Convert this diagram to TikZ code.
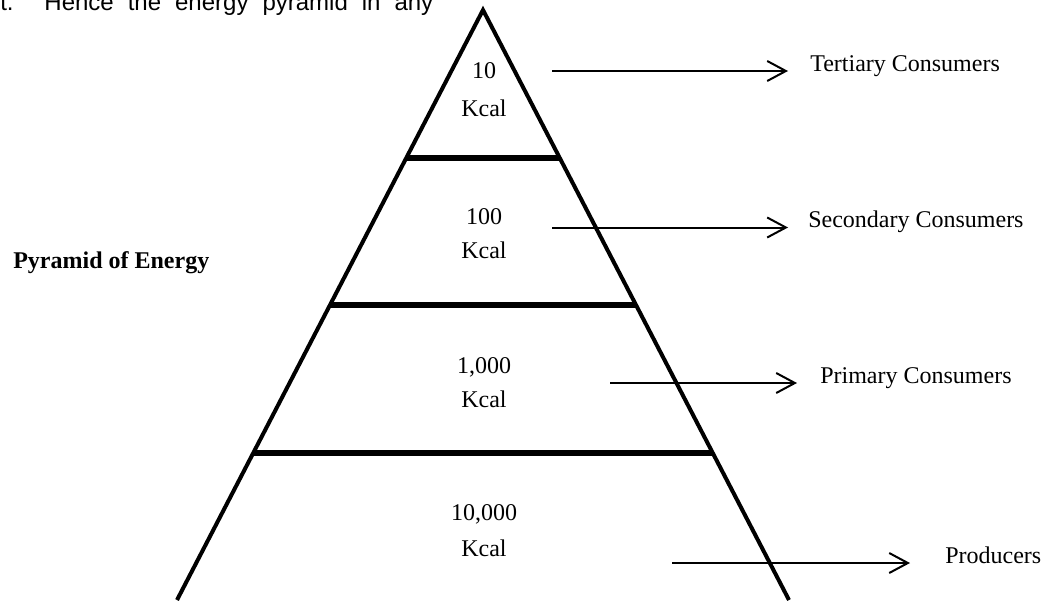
\documentclass[tikz,border=0pt]{standalone}
\usepackage{fontspec}
\setmainfont{Liberation Serif}
\newfontfamily\textsans{Liberation Sans}
\usetikzlibrary{arrows.meta,calc}

\begin{document}
\begin{tikzpicture}[x=0.75pt, y=-0.75pt,
    side/.style={line width=3pt},
    bar/.style={line width=4.5pt},
    flow/.style={line width=1.5pt, -{Straight Barb[length=14pt, width=15pt]}},
    val/.style={font=\fontsize{18}{20}\selectfont, inner sep=0pt, anchor=base},
    lab/.style={font=\fontsize{18}{20}\selectfont, inner sep=0pt, anchor=base west}]
    % --- Frame ---
    \useasboundingbox (0,0) rectangle (1042,600);

    % --- Coordinates ---
    \coordinate (apex) at (483,10);
    \coordinate (bl) at (177,600);
    \coordinate (br) at (789,600);

    % --- Running text cut by the page ---
    \node[inner sep=0pt, anchor=base west, font=\textsans\fontsize{18}{20}\selectfont] (para) at (0,10)
        {\makebox[324.75pt][s]{t. Hence the energy pyramid in any}};

    % --- Pyramid ---
    \draw[side] (bl) -- (apex) -- (br);
    \draw[bar] ($(apex)!0.25!(bl)$) -- ($(apex)!0.25!(br)$);
    \draw[bar] ($(apex)!0.5!(bl)$) -- ($(apex)!0.5!(br)$);
    \draw[bar] ($(apex)!0.75!(bl)$) -- ($(apex)!0.75!(br)$);

    % --- Energy per level ---
    \node[val] (num4) at (484,78) {10};
    \node[val] (kcal4) at (484,116) {Kcal};
    \node[val] (num3) at (484,224) {100};
    \node[val] (kcal3) at (484,258) {Kcal};
    \node[val] (num2) at (484,373) {1,000};
    \node[val] (kcal2) at (484,407) {Kcal};
    \node[val] (num1) at (484,520) {10,000};
    \node[val] (kcal1) at (484,556) {Kcal};

    % --- Title ---
    \node[lab, font=\bfseries\fontsize{18}{20}\selectfont] (title) at (13,268) {Pyramid of Energy};

    % --- Trophic levels ---
    \node[lab] (tert) at (810,71) {Tertiary Consumers};
    \node[lab] (sec) at (808,227.5) {Secondary Consumers};
    \node[lab] (prim) at (820,383) {Primary Consumers};
    \node[lab] (prod) at (945,563) {Producers};

    \coordinate (a4) at (552,71);
    \coordinate (a3) at (552,227.5);
    \coordinate (a2) at (610,383);
    \coordinate (a1) at (672,563);

    % --- Arrows ---
    \draw[flow, shorten >=16.5pt] (a4) -- (tert.base west);
    \draw[flow, shorten >=15pt] (a3) -- (sec.base west);
    \draw[flow, shorten >=17.25pt] (a2) -- (prim.base west);
    \draw[flow, shorten >=26.25pt] (a1) -- (prod.base west);

\end{tikzpicture}
\end{document}
